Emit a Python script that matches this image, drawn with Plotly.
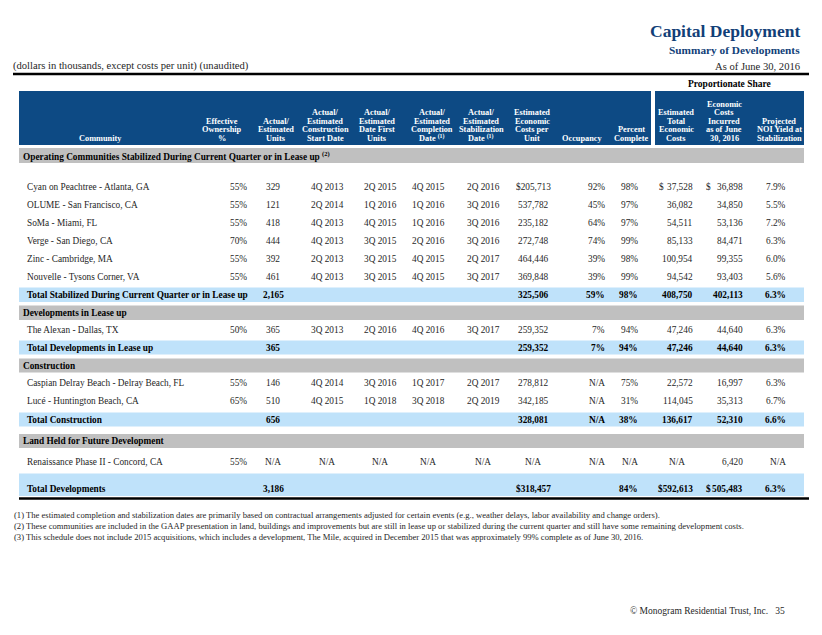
import plotly.graph_objects as go

# ---------------- text / data ----------------
title = "Capital Deployment"
subtitle = "Summary of Developments"
units_note = "(dollars in thousands, except costs per unit) (unaudited)"
as_of = "As of June 30, 2016"
prop_share = "Proportionate Share"

header_labels = [
    ["Community"],
    ["Effective", "Ownership", "%"],
    ["Actual/", "Estimated", "Units"],
    ["Actual/", "Estimated", "Construction", "Start Date"],
    ["Actual/", "Estimated", "Date First", "Units"],
    ["Actual/", "Estimated", "Completion", "Date <sup>(1)</sup>"],
    ["Actual/", "Estimated", "Stabilization", "Date <sup>(1)</sup>"],
    ["Estimated", "Economic", "Costs per", "Unit"],
    ["Occupancy"],
    ["Percent", "Complete"],
    ["Estimated", "Total", "Economic", "Costs"],
    ["Economic", "Costs", "Incurred", "as of June", "30, 2016"],
    ["Projected", "NOI Yield at", "Stabilization"],
]

sections = [
    "Operating Communities Stabilized During Current Quarter or in Lease up <sup>(2)</sup>",
    "Developments in Lease up",
    "Construction",
    "Land Held for Future Development",
]

communities = [
    "Cyan on Peachtree - Atlanta, GA",
    "OLUME - San Francisco, CA",
    "SoMa - Miami, FL",
    "Verge - San Diego, CA",
    "Zinc - Cambridge, MA",
    "Nouvelle - Tysons Corner, VA",
    "The Alexan - Dallas, TX",
    "Caspian Delray Beach - Delray Beach, FL",
    "Lucé - Huntington Beach, CA",
    "Renaissance Phase II - Concord, CA",
]
ownership = ["55%", "55%", "55%", "70%", "55%", "55%", "50%", "55%", "65%", "55%"]
units = ["329", "121", "418", "444", "392", "461", "365", "146", "510", "N/A"]
construction_start = ["4Q 2013", "2Q 2014", "4Q 2013", "4Q 2013", "2Q 2013", "4Q 2013",
                      "3Q 2013", "4Q 2014", "4Q 2015", "N/A"]
first_units = ["2Q 2015", "1Q 2016", "4Q 2015", "3Q 2015", "3Q 2015", "3Q 2015",
               "2Q 2016", "3Q 2016", "1Q 2018", "N/A"]
completion = ["4Q 2015", "1Q 2016", "1Q 2016", "2Q 2016", "4Q 2015", "4Q 2015",
              "4Q 2016", "1Q 2017", "3Q 2018", "N/A"]
stabilization = ["2Q 2016", "3Q 2016", "3Q 2016", "3Q 2016", "2Q 2017", "3Q 2017",
                 "3Q 2017", "2Q 2017", "2Q 2019", "N/A"]
cost_per_unit = ["$205,713", "537,782", "235,182", "272,748", "464,446", "369,848",
                 "259,352", "278,812", "342,185", "N/A"]
occupancy = ["92%", "45%", "64%", "74%", "39%", "39%", "7%", "N/A", "N/A", "N/A"]
pct_complete = ["98%", "97%", "97%", "99%", "98%", "99%", "94%", "75%", "31%", "N/A"]
total_costs = ["$ 37,528", "36,082", "54,511", "85,133", "100,954", "94,542",
               "47,246", "22,572", "114,045", "N/A"]
costs_incurred = ["$ 36,898", "34,850", "53,136", "84,471", "99,355", "93,403",
                  "44,640", "16,997", "35,313", "6,420"]
noi_yield = ["7.9%", "5.5%", "7.2%", "6.3%", "6.0%", "5.6%", "6.3%", "6.3%", "6.7%", "N/A"]

total_labels = [
    "Total Stabilized During Current Quarter or in Lease up",
    "Total Developments in Lease up",
    "Total Construction",
    "Total Developments",
]
total_units = ["2,165", "365", "656", "3,186"]
total_cost_per_unit = ["325,506", "259,352", "328,081", "$318,457"]
total_occupancy = ["59%", "7%", "N/A", ""]
total_pct_complete = ["98%", "94%", "38%", "84%"]
total_total_costs = ["408,750", "47,246", "136,617", "$592,613"]
total_incurred = ["402,113", "44,640", "52,310", "$ 505,483"]
total_noi = ["6.3%", "6.3%", "6.6%", "6.3%"]

footnotes = [
    "(1) The estimated completion and stabilization dates are primarily based on contractual arrangements adjusted for certain events (e.g., weather delays, labor availability and change orders).",
    "(2) These communities are included in the GAAP presentation in land, buildings and improvements but are still in lease up or stabilized during the current quarter and still have some remaining development costs.",
    "(3) This schedule does not include 2015 acquisitions, which includes a development, The Mile, acquired in December 2015 that was approximately 99% complete as of June 30, 2016.",
]
copyright_text = "© Monogram Residential Trust, Inc.   35"

# ---------------- layout / style ----------------
W, H = 822, 635
SERIF = "Liberation Serif, Times New Roman, serif"
BLUE_TXT = "#123f78"
HDR_FILL = "#0d4a84"
GRAY = "#c0c0c0"
LBLUE = "#bfe2fa"
TXT = "#262626"
DATA_SIZE = 9.3
HDR_SIZE = 8.3
HDR_STEP = 8.5

TABLE_L, TABLE_R = 19, 804
HDR_SPLIT = (651, 655)

# columns: header center, value anchor x, anchor
col_hdr_x = [100, 222, 276, 325, 377, 432, 481, 532, 582, 631, 676, 724, 779]
col_val_x = [26, 248, 273, 327, 380, 428, 483, 533, 606, 639, 694, 744, 787]
col_anchor = ["left", "right", "center", "center", "center", "center", "center",
              "center", "right", "right", "right", "right", "right"]
col_dollar_x = {10: 658, 11: 705}
col_na_center = {10: 677}

# vertical structure: (kind, index, top, height)
structure = [
    ("section", 0, 148, 15),
    ("row", 0, 177.5, 18), ("row", 1, 195.5, 18), ("row", 2, 213.5, 18),
    ("row", 3, 231.5, 18), ("row", 4, 249.5, 18), ("row", 5, 267.5, 18),
    ("total", 0, 287.5, 14.5),
    ("section", 1, 305.5, 14.5),
    ("row", 6, 321, 18),
    ("total", 1, 340.5, 14),
    ("section", 2, 358.5, 14),
    ("row", 7, 374, 18), ("row", 8, 392, 18),
    ("total", 2, 412.5, 14),
    ("section", 3, 434, 14),
    ("row", 9, 452.5, 18),
    ("total", 3, 473.5, 22.5),
]

fig = go.Figure()
fig.add_trace(go.Scatter(x=[0, W], y=[0, H], mode="markers",
                         marker=dict(opacity=0), hoverinfo="skip", showlegend=False))

shapes = []
ann = []


def text(x, y, s, size=DATA_SIZE, bold=False, color=TXT, xanchor="left", yanchor="middle"):
    ann.append(dict(x=x, y=y, xref="x", yref="y", text=("<b>%s</b>" % s) if bold else s,
                    showarrow=False, xanchor=xanchor, yanchor=yanchor,
                    font=dict(family=SERIF, size=size, color=color), borderpad=0))


def rect(x0, y0, x1, y1, fill):
    shapes.append(dict(type="rect", xref="x", yref="y", x0=x0, x1=x1, y0=y0, y1=y1,
                       fillcolor=fill, line=dict(width=0), layer="below"))


def line(x0, x1, y, w):
    shapes.append(dict(type="line", xref="x", yref="y", x0=x0, x1=x1, y0=y, y1=y,
                       line=dict(color="black", width=w)))


# titles
text(801, 31, title, size=17.5, bold=True, color=BLUE_TXT, xanchor="right")
text(801, 50, subtitle, size=11.3, bold=True, color=BLUE_TXT, xanchor="right")
text(12, 66, units_note, size=10.6)
text(801, 66, as_of, size=10.6, xanchor="right")
line(13, 809, 74, 2.5)
text(729, 84, prop_share, size=9.5, bold=True, color="black", xanchor="center")

# header band
rect(TABLE_L, 91, HDR_SPLIT[0], 145, HDR_FILL)
rect(HDR_SPLIT[1], 91, TABLE_R, 145, HDR_FILL)
for ci, lines in enumerate(header_labels):
    n = len(lines)
    for li, s in enumerate(lines):
        y = 138.3 - HDR_STEP * (n - 1 - li)
        text(col_hdr_x[ci], y, s, size=HDR_SIZE, bold=True, color="white", xanchor="center")


def put_value(ci, y, s, bold):
    if s == "":
        return
    color = "black" if bold else TXT
    if ci in col_na_center and s == "N/A":
        text(col_na_center[ci], y, s, bold=bold, color=color, xanchor="center")
        return
    if ci in col_dollar_x and s.startswith("$ "):
        text(col_dollar_x[ci], y, "$", bold=bold, color=color, xanchor="left")
        s = s[2:]
    text(col_val_x[ci], y, s, bold=bold, color=color, xanchor=col_anchor[ci])


row_cols = [communities, ownership, units, construction_start, first_units, completion,
            stabilization, cost_per_unit, occupancy, pct_complete, total_costs,
            costs_incurred, noi_yield]
total_cols = {2: total_units, 7: total_cost_per_unit, 8: total_occupancy,
              9: total_pct_complete, 10: total_total_costs, 11: total_incurred, 12: total_noi}

for kind, idx, top, h in structure:
    if kind == "section":
        rect(TABLE_L, top, TABLE_R, top + h, GRAY)
        text(22, top + h / 2, sections[idx], bold=True, color="black")
    elif kind == "row":
        yc = top + h / 2
        for ci, col in enumerate(row_cols):
            put_value(ci, yc, col[idx], False)
    else:
        rect(TABLE_L, top, TABLE_R, top + h, LBLUE)
        yc = top + h / 2 if h < 20 else top + h - 7.5
        text(26, yc, total_labels[idx], bold=True, color="black")
        for ci, col in total_cols.items():
            put_value(ci, yc, col[idx], True)

line(19, 809, 498.5, 2.5)

for i, f in enumerate(footnotes):
    text(13, 514.5 + 11 * i, f, size=8.6)

text(786, 611, copyright_text, size=9.5, xanchor="right")

fig.update_layout(
    width=W, height=H, margin=dict(l=0, r=0, t=0, b=0),
    paper_bgcolor="white", plot_bgcolor="white",
    xaxis=dict(range=[0, W], visible=False, fixedrange=True),
    yaxis=dict(range=[H, 0], visible=False, fixedrange=True),
    shapes=shapes, annotations=ann, showlegend=False,
)

fig.write_html("out.html", config={"displayModeBar": False},
               post_script="document.body.style.margin='0';")
